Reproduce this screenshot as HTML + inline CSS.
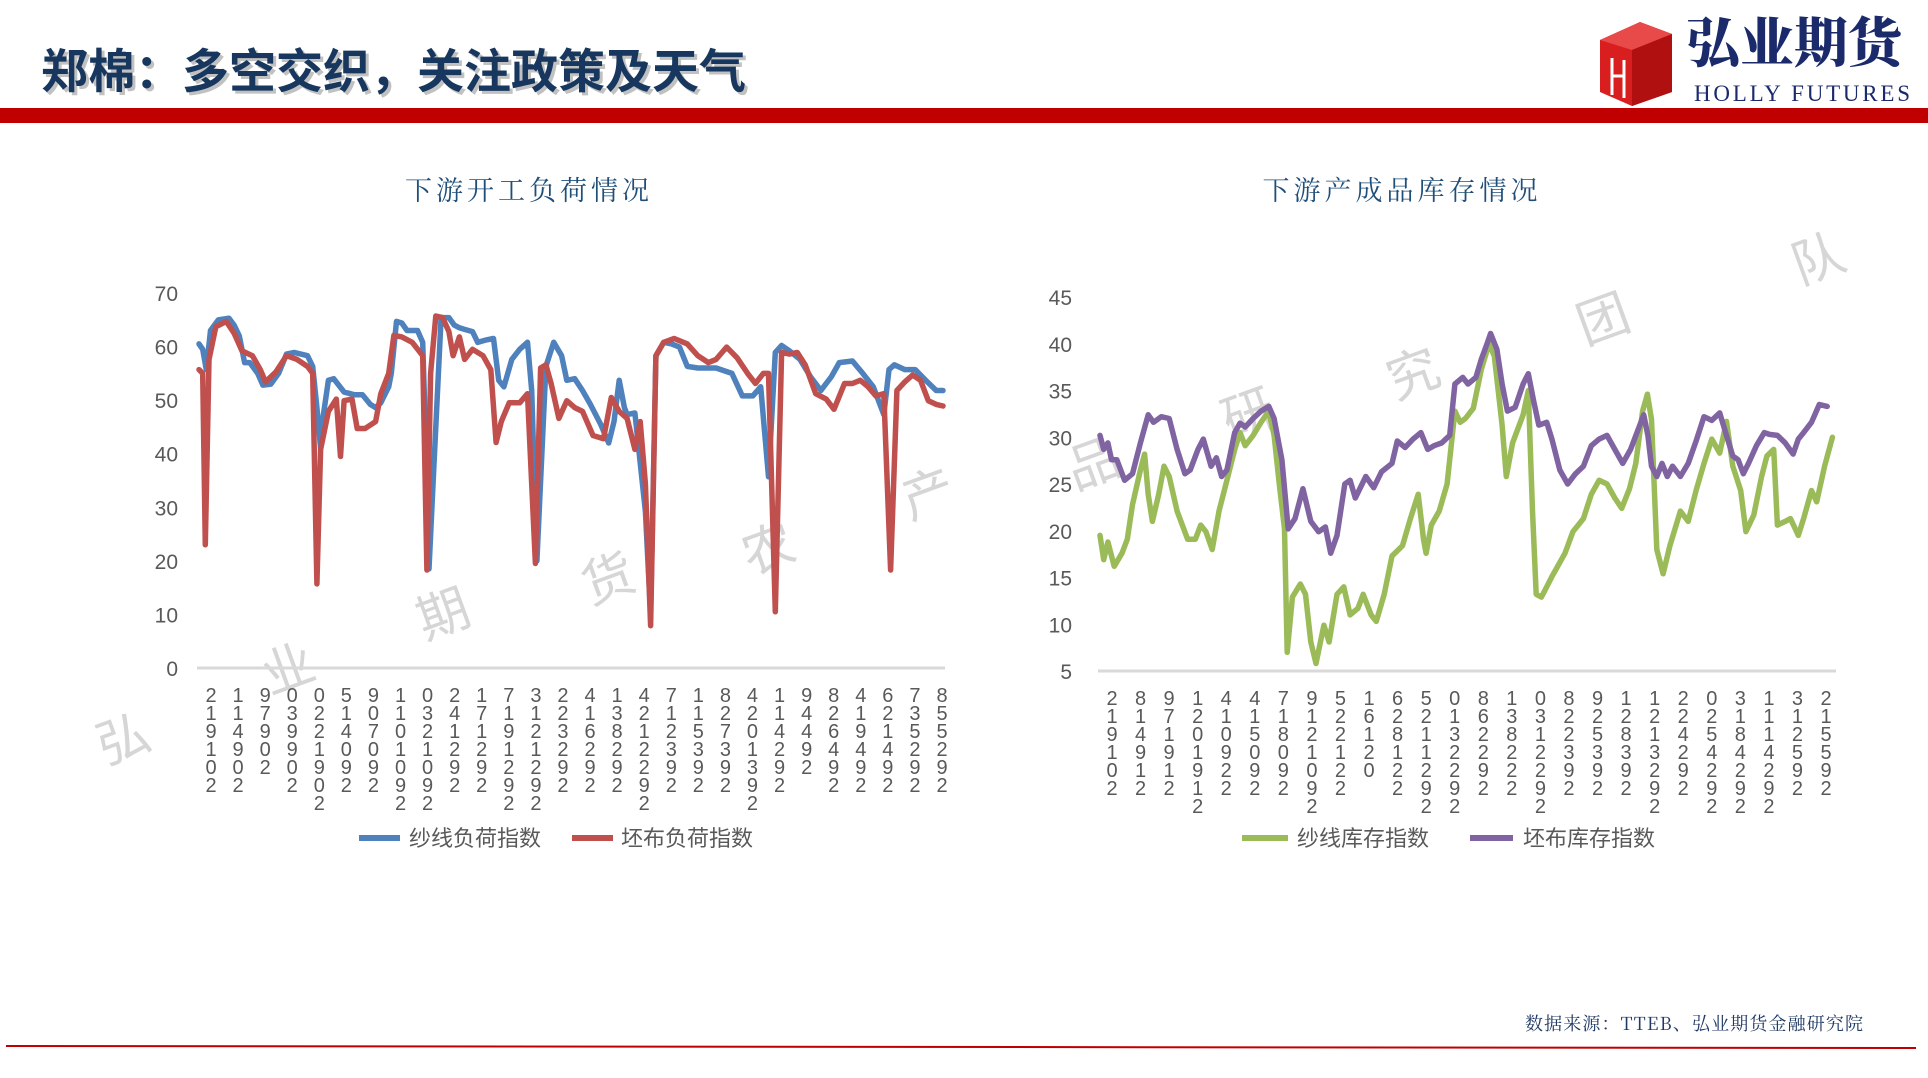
<!DOCTYPE html>
<html><head><meta charset="utf-8">
<style>
html,body{margin:0;padding:0;background:#fff;}
body{width:1928px;height:1078px;overflow:hidden;position:relative;font-family:"Liberation Sans","Noto Sans CJK SC",sans-serif;}
svg{position:absolute;left:0;top:0;}
</style></head>
<body>
<svg id="page" width="1928" height="1078" viewBox="0 0 1928 1078">
  <text x="44" y="91" font-family="'Liberation Sans','Noto Sans CJK SC',sans-serif" font-weight="bold" font-size="47" fill="#999" opacity="0.6">郑棉：多空交织，关注政策及天气</text>
  <text x="41" y="88" font-family="'Liberation Sans','Noto Sans CJK SC',sans-serif" font-weight="bold" font-size="47" fill="#17375e">郑棉：多空交织，关注政策及天气</text>
  <rect x="0" y="108" width="1928" height="15" fill="#c00000"/>
  <g>
    <polygon points="1600,40 1640,22 1672,34 1672,92 1632,106 1600,92" fill="#d81e1e"/>
    <polygon points="1600,40 1640,22 1672,34 1632,50" fill="#e84a4a"/>
    <polygon points="1632,50 1672,34 1672,92 1632,106" fill="#b01010"/>
    <path d="M1612,58 L1612,95 M1624,60 L1624,98 M1612,76 L1624,76" stroke="#fff" stroke-width="3" fill="none"/>
    <text x="1686" y="62" font-family="'Noto Serif CJK SC',serif" font-weight="900" font-size="54" fill="#1b2a6b">弘业期货</text>
    <text x="1694" y="101" font-family="'Liberation Serif',serif" font-size="23" fill="#1b2a6b" textLength="216">HOLLY FUTURES</text>
  </g>
  <text x="529" y="200" text-anchor="middle" font-family="'Noto Serif CJK SC',serif" font-size="27" fill="#1f4e79" letter-spacing="4">下游开工负荷情况</text>
  <text x="1402" y="200" text-anchor="middle" font-family="'Noto Serif CJK SC',serif" font-size="27" fill="#1f4e79" letter-spacing="4">下游产成品库存情况</text>
  <g font-family="'Noto Sans CJK SC',sans-serif" font-size="52" fill="#d6d6d6">
    <text transform="translate(105,765) rotate(-20)">弘</text>
    <text transform="translate(270,695) rotate(-20)">业</text>
    <text transform="translate(425,640) rotate(-20)">期</text>
    <text transform="translate(590,605) rotate(-20)">货</text>
    <text transform="translate(750,575) rotate(-20)">农</text>
    <text transform="translate(910,520) rotate(-20)">产</text>
    <text transform="translate(1075,490) rotate(-20)">品</text>
    <text transform="translate(1230,440) rotate(-20)">研</text>
    <text transform="translate(1395,400) rotate(-20)">究</text>
    <text transform="translate(1585,345) rotate(-20)">团</text>
    <text transform="translate(1800,285) rotate(-20)">队</text>
  </g>
  <g id="left"></g>
  <g id="right"></g>
  <g font-family="'Liberation Sans','Noto Sans CJK SC',sans-serif" font-size="22" fill="#595959">
    <g><line x1="359" y1="838" x2="400" y2="838" stroke="#4f81bd" stroke-width="6"/><text x="409" y="846">纱线负荷指数</text></g>
    <g><line x1="572" y1="838" x2="613" y2="838" stroke="#c0504d" stroke-width="6"/><text x="621" y="846">坯布负荷指数</text></g>
    <g><line x1="1242" y1="838" x2="1288" y2="838" stroke="#9bbb59" stroke-width="6"/><text x="1297" y="846">纱线库存指数</text></g>
    <g><line x1="1470" y1="838" x2="1513" y2="838" stroke="#8064a2" stroke-width="6"/><text x="1523" y="846">坯布库存指数</text></g>
  </g>
  <text x="1525" y="1030" font-family="'Noto Serif CJK SC',serif" font-size="18" fill="#1f3864" textLength="338" lengthAdjust="spacing">数据来源：TTEB、弘业期货金融研究院</text>
  <line x1="6" y1="1046" x2="1916" y2="1048" stroke="#c00000" stroke-width="2"/>
</svg>
<script>
const loadYTicks = [0,10,20,30,40,50,60,70];
const loadXLabels = ["219102","114902","97902","039902","0221902","514092","907092","1101092","0321092","241292","171292","7191292","3121292","223292","416292","138292","4212292","712392","115392","827392","4201392","114292","94492","826492","419492","621492","735292","855292"];
const yarnLoadT = [0,7,14,22,37,57,67,77,87,97,112,122,137,152,167,182,207,217,225,232,237,247,257,277,297,312,327,337,347,362,367,377,387,397,417,427,432,439,447,462,477,487,497,507,522,532,547,562,572,582,597,612,627,635,645,662,677,692,702,717,732,747,767,782,792,802,812,817,832,845,852,862,872,887,902,917,932,952,967,987,1017,1037,1057,1072,1087,1100,1112,1127,1147,1167,1187,1207,1222,1247,1267,1287,1307,1317,1327,1347,1367,1387,1407,1420];
const yarnLoad = [60.5,59.5,55.7,63,65,65.3,64,62,57,57,55,52.8,53,55,58.6,58.9,58.3,56.3,48.6,41,47,53.7,54,51.5,51,51,49.2,48.6,49.5,52.5,55,64.7,64.4,63,63,60.8,45,18.5,35,65.4,65.4,64,63.5,63.2,62.8,60.8,61.2,61.5,53.7,52.5,57.6,59.5,60.8,51.8,20,56.3,60.8,58.3,53.7,54,51.8,49.2,45.4,42,46,53.7,48.6,47.3,47.6,35.7,29.2,10,58.3,60.8,60.5,59.9,56.3,56,56,56,55,50.8,50.8,52.5,35.7,58.9,60.2,59.2,57.6,54.4,51.8,54.4,57,57.3,55,52.5,47.3,55.7,56.6,55.7,55.7,53.7,51.8,51.8];
const fabricLoadT = [0,7,12,19,32,52,67,82,102,117,127,147,167,187,207,217,225,232,247,262,270,277,292,302,317,337,347,362,372,387,407,427,435,442,452,465,477,485,497,507,522,542,557,567,577,592,612,627,642,652,662,672,687,702,717,732,752,772,787,802,817,832,842,852,862,872,887,907,932,952,972,987,1007,1027,1047,1062,1077,1087,1100,1112,1127,1142,1157,1177,1197,1212,1232,1247,1262,1277,1292,1307,1320,1332,1347,1362,1377,1392,1407,1420];
const fabricLoad = [55.7,55,23,57.6,63.7,64.7,62.5,59.2,58.3,55.7,53.4,55.3,58.3,57.6,56.3,55,15.7,40.8,47.9,50.2,39.5,49.9,50.2,44.7,44.7,46,51.2,55,62.1,61.8,60.8,58.3,18.3,55,65.7,65.4,62.8,58.3,61.8,57.6,59.5,58.3,55.7,42.1,46,49.5,49.5,51.2,19.5,56,56.6,53.1,46.6,49.9,48.6,47.9,43.4,42.8,50.5,47.9,46.6,40.8,46,34.4,7.9,58.3,60.8,61.5,60.5,58.3,57,57.6,59.9,57.9,55,53.1,55,55,10.5,58.9,58.6,58.9,56.6,51.2,50.2,48.3,53.1,53.1,53.7,52.5,50.8,51.2,18.3,51.8,53.4,54.7,53.7,49.9,49.2,48.9];
const invYTicks = [5,10,15,20,25,30,35,40,45];
const invXLabels = ["219102","814912","971912","1201912","410922","415092","718092","9121092","522122","16120","628122","5211292","0132292","862292","138222","0312292","822392","925392","128392","1213292","224292","0254292","3184292","1114292","312592","215592"];
const fabricInvT = [0,7,15,22,32,47,62,77,92,102,117,132,147,162,172,187,197,212,222,232,242,257,267,277,292,307,322,332,347,359,372,387,402,417,430,440,452,467,477,487,507,522,537,557,567,582,597,612,625,637,652,667,677,692,702,717,727,737,745,757,767,777,792,807,817,827,837,852,862,877,892,907,922,937,952,967,982,997,1012,1027,1037,1045,1052,1062,1072,1082,1092,1107,1122,1137,1152,1167,1182,1195,1207,1217,1227,1237,1252,1267,1277,1292,1307,1322,1332,1342,1357,1372,1387,1397];
const fabricInv = [30.2,28.7,29.4,27.6,27.6,25.4,26.1,29.4,32.4,31.6,32.2,32,28.7,26.1,26.5,28.7,29.8,26.9,27.8,25.8,26.5,30.5,31.5,31.1,32,32.8,33.3,32,27.6,20.2,21.3,24.5,21,19.9,20.4,17.6,19.5,25,25.4,23.5,25.8,24.6,26.3,27.2,29.6,28.9,29.8,30.5,28.7,29.1,29.4,30.2,35.7,36.4,35.7,36.4,38.3,39.8,41.1,39.4,35.7,32.8,33.2,35.7,36.8,33.9,31.3,31.6,29.8,26.5,25,26.1,26.9,29.1,29.8,30.2,28.7,27.2,28.7,30.9,32.4,30.2,26.9,25.8,27.2,25.8,26.9,25.8,27.2,29.6,32.2,31.8,32.6,30.2,28,27.6,26.1,27.2,29.1,30.5,30.3,30.2,29.4,28.2,29.8,30.5,31.6,33.5,33.3];
const yarnInvT = [0,7,15,27,42,52,62,77,85,92,100,112,122,132,147,167,182,192,202,214,227,242,257,267,277,292,307,322,332,342,352,357,367,382,392,402,412,427,437,452,465,477,492,502,517,527,542,557,577,592,607,617,622,632,647,662,677,687,697,712,727,742,752,767,775,787,807,817,825,832,842,852,862,887,902,922,937,952,967,982,995,1010,1022,1035,1044,1052,1062,1074,1087,1107,1122,1137,1152,1167,1182,1195,1207,1222,1232,1247,1262,1272,1285,1292,1307,1317,1332,1342,1357,1367,1382,1397];
const yarnInv = [19.5,16.9,18.8,16.2,17.6,19.1,22.8,26.5,28.2,23.9,21,23.9,26.9,25.8,22.1,19.1,19.1,20.6,19.9,18,22.1,25.4,28.7,30.5,29.1,30.2,31.6,32.8,30.2,25,20.2,7,12.9,14.3,13.2,8.1,5.8,9.9,8.1,13.2,14,11,11.7,13.2,11,10.3,13.2,17.3,18.4,21.3,23.9,19.1,17.6,20.6,22.1,25,32.8,31.6,32,33.1,37.2,40,38.7,31.3,25.8,29.4,32.4,35,22.1,13.2,12.9,14,15.1,17.6,19.9,21.3,23.9,25.4,25,23.5,22.4,24.5,27.2,32.8,34.6,31.9,18,15.4,18.4,22.1,21,24.3,27.2,29.8,28.3,31.7,26.9,24.3,19.9,21.7,25.8,28,28.7,20.6,21,21.3,19.5,21.3,24.3,23.1,26.9,30];

const NS = "http://www.w3.org/2000/svg";
function mk(tag, attrs, parent){const e=document.createElementNS(NS,tag);for(const k in attrs)e.setAttribute(k,attrs[k]);parent.appendChild(e);return e;}

function drawChart(g, cfg){
  const xS = t => cfg.x0 + (t - cfg.tMin)/(cfg.tMax - cfg.tMin)*(cfg.x1 - cfg.x0);
  const yS = v => cfg.yBottom - (v - cfg.vMin)/(cfg.vMax - cfg.vMin)*(cfg.yBottom - cfg.yTop);
  const axis = mk("line",{x1:cfg.x0-2,x2:cfg.x1+2,y1:cfg.yBottom,y2:cfg.yBottom,stroke:"#d9d9d9","stroke-width":3},g);
  
  
  cfg.yTicks.forEach(v=>{
    const t = mk("text",{x:cfg.yLabelX,y:yS(v)+8,"text-anchor":"end","font-size":21,fill:"#595959","font-family":"'Liberation Sans',sans-serif"},g);
    t.textContent = v;
    
    
  });
  const n = cfg.xLabels.length;
  cfg.xLabels.forEach((lab,i)=>{
    const cx = cfg.lx0 + i*(cfg.lx1-cfg.lx0)/(n-1);
    const t = mk("text",{x:cx,"text-anchor":"middle","font-size":20,fill:"#595959","font-family":"'Liberation Sans',sans-serif"},g);
    
    
    [...lab].forEach((ch,k)=>{
      const s = mk("tspan",{x:cx,y:cfg.yBottom+34+k*18},t);
      s.textContent = ch;
    });
  });
  cfg.series.forEach(s=>{
    let d="";
    s.t.forEach((t,i)=>{ d += (i?"L":"M")+xS(t).toFixed(1)+","+yS(s.v[i]).toFixed(1); });
    const p = mk("path",{d:d,fill:"none",stroke:s.color,"stroke-width":5.5,"stroke-linejoin":"round","stroke-linecap":"round"},g);
    
    
  });
}

drawChart(document.getElementById("left"),{
  x0:199,x1:943,tMin:0,tMax:1420,yTop:293,yBottom:668,vMin:0,vMax:70,
  yTicks:loadYTicks,yLabelX:178,xLabels:loadXLabels,lx0:211,lx1:942,
  series:[{t:yarnLoadT,v:yarnLoad,color:"#4f81bd",name:"yarn-load-line"},
          {t:fabricLoadT,v:fabricLoad,color:"#c0504d",name:"fabric-load-line"}]
});
drawChart(document.getElementById("right"),{
  x0:1100,x1:1834,tMin:0,tMax:1400,yTop:297,yBottom:671,vMin:5,vMax:45,
  yTicks:invYTicks,yLabelX:1072,xLabels:invXLabels,lx0:1112,lx1:1826,
  series:[{t:yarnInvT,v:yarnInv,color:"#9bbb59",name:"yarn-inventory-line"},
          {t:fabricInvT,v:fabricInv,color:"#8064a2",name:"fabric-inventory-line"}]
});
</script>
</body></html>
